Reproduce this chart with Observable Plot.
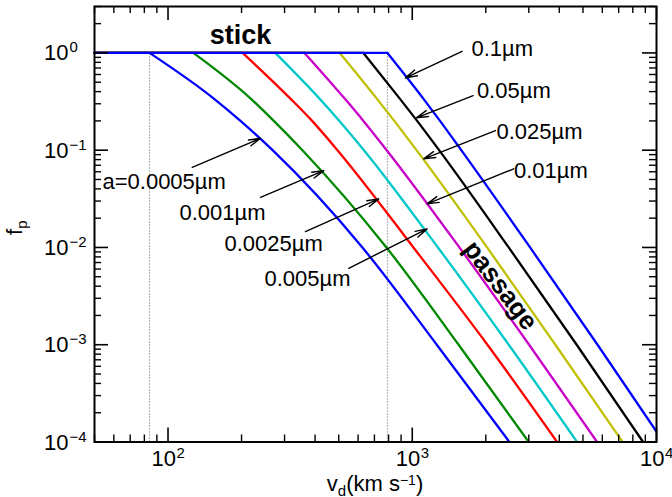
<!DOCTYPE html>
<html><head><meta charset="utf-8">
<script src="https://cdn.jsdelivr.net/npm/d3@7"></script>
<script src="https://cdn.jsdelivr.net/npm/@observablehq/plot@0.6"></script>
<style>
html,body{margin:0;padding:0;background:#fff;}
#chart svg{display:block;}
</style></head><body><div id="chart"></div>
<script>
// ---- data ----
const sizes  = ["0.0005","0.001","0.0025","0.005","0.01","0.025","0.05","0.1"];
const colors = ["#0000ff","#008800","#ff0000","#00c8c8","#c800c8","#c0c000","#000000","#0000ff"];
// f_p levels at which velocities were read (shared by all curves)
const fLevels = [1, 0.339, 0.2, 0.1, 0.01, 0.001, 0.0001];
// velocity (km/s) of each curve at those levels; first value = start of decline
const v_a0005 = [84, 154, 198, 268, 625, 1260, 2499];
const v_a001  = [127, 218, 271, 355, 784, 1548, 2997];
const v_a0025 = [202, 317, 389, 494, 1011, 2031, 3917];
const v_a005  = [275, 417, 503, 634, 1274, 2483, 4730];
const v_a01   = [362, 529, 631, 786, 1560, 3009, 5711];
const v_a025  = [505, 716, 844, 1041, 2025, 3855, 7269];
const v_a05   = [631, 889, 1047, 1288, 2483, 4712, 8810];
const v_a1    = [791, 1110, 1299, 1587, 3037, 5736, 10690];
const vStart = 50;

// annotation labels
const labelText = ["a=0.0005µm","0.001µm","0.0025µm","0.005µm","0.01µm","0.025µm","0.05µm","0.1µm"];
const labelV = [53.9, 111.4, 170.3, 248.3, 2607, 2211, 1839, 1747];
const labelF = [0.0403, 0.01935, 0.00929, 0.00401, 0.0523, 0.1316, 0.347, 0.938];
// arrows: tail (1) -> head (2)
const arrowV1 = [125.6, 239.1, 365.3, 549.5, 2602, 2190, 1775, 1600];
const arrowF1 = [0.0667, 0.0328, 0.01457, 0.00611, 0.0643, 0.159, 0.364, 1.038];
const arrowV2 = [239.1, 434.1, 729.1, 1150, 1150, 1114, 1040, 937.6];
const arrowF2 = [0.1325, 0.0617, 0.0316, 0.01553, 0.02805, 0.0814, 0.2148, 0.5534];

const regionText = ["stick", "passage"];
const regionV = [198, 2296];
const regionF = [1.246, 0.00406];

// ticks
const xMajor = [100, 1000, 10000];
const xExp = ["2", "3", "4"];
const yMajor = [1e-4, 1e-3, 1e-2, 1e-1, 1];
const yExp = ["\u22124", "\u22123", "\u22122", "\u22121", "0"];
const xDomain = [50, 1e4];
const yDomain = [1e-4, 3];

// ---- build tables ----
const vSeries = [v_a0005, v_a001, v_a0025, v_a005, v_a01, v_a025, v_a05, v_a1];
const decline = [], flat = [];
sizes.forEach((s, i) => {
  fLevels.forEach((f, j) => decline.push({size: s, v: vSeries[i][j], f}));
  flat.push({size: s, v: vStart, f: 1}, {size: s, v: vSeries[i][0], f: 1});
});
const minor = (lo, hi) => {
  const out = [];
  for (let d = 1e-5; d <= 1e5; d *= 10)
    for (let m = 2; m <= 9; m++) { const t = +(d * m).toPrecision(6); if (t >= lo && t <= hi) out.push(t); }
  return out;
};
const xMinor = minor(xDomain[0], xDomain[1]);
const yMinor = minor(yDomain[0], yDomain[1]);
const idx = sizes.map((_, i) => i);

const W = 672, H = 497, ML = 94, MR = 16, MT = 6, MB = 55.5;
const FW = W - ML - MR, FH = H - MT - MB;
const FONT = "'Liberation Sans', Arial, Helvetica, sans-serif";
const TS = 22, SS = 15;

const svg = Plot.plot({
  width: W, height: H,
  marginLeft: ML, marginRight: MR, marginTop: MT, marginBottom: MB,
  x: {type: "log", domain: xDomain, axis: null},
  y: {type: "log", domain: yDomain, axis: null},
  color: {domain: sizes, range: colors},
  style: {fontFamily: FONT, background: "white", overflow: "visible"},
  marks: [
    Plot.ruleX([v_a0005[0], v_a1[0]], {x: d => d, y1: yDomain[0], y2: 1, stroke: "#333", strokeWidth: 0.8, strokeDasharray: "1,2"}),
    Plot.line(decline, {x: "v", y: "f", z: "size", stroke: "size", strokeWidth: 2.3, curve: "monotone-x", clip: true}),
    Plot.line(flat, {x: "v", y: "f", z: "size", stroke: "size", strokeWidth: 2.3}),
    // ticks, all pointing inward
    Plot.tickX(xMajor, {x: d => d, insetTop: FH - 14, stroke: "black", strokeWidth: 1.6}),
    Plot.tickX(xMajor, {x: d => d, insetBottom: FH - 14, stroke: "black", strokeWidth: 1.6}),
    Plot.tickX(xMinor, {x: d => d, insetTop: FH - 7, stroke: "black", strokeWidth: 1.4}),
    Plot.tickX(xMinor, {x: d => d, insetBottom: FH - 7, stroke: "black", strokeWidth: 1.4}),
    Plot.tickY(yMajor, {y: d => d, insetRight: FW - 14, stroke: "black", strokeWidth: 1.6}),
    Plot.tickY(yMajor, {y: d => d, insetLeft: FW - 14, stroke: "black", strokeWidth: 1.6}),
    Plot.tickY(yMinor, {y: d => d, insetRight: FW - 7, stroke: "black", strokeWidth: 1.4}),
    Plot.tickY(yMinor, {y: d => d, insetLeft: FW - 7, stroke: "black", strokeWidth: 1.4}),
    Plot.frame({stroke: "black", strokeWidth: 2}),
    // tick labels
    Plot.text(xMajor, {x: d => d, frameAnchor: "bottom", text: () => "10", textAnchor: "end", lineAnchor: "bottom", dx: 8, dy: 23.5, fontSize: TS, fill: "black"}),
    Plot.text(xMajor, {x: d => d, frameAnchor: "bottom", text: (d, i) => xExp[i], textAnchor: "start", lineAnchor: "bottom", dx: 8.5, dy: 15.5, fontSize: SS, fill: "black"}),
    Plot.text(yMajor, {y: d => d, frameAnchor: "left", text: () => "10", textAnchor: "end", lineAnchor: "bottom", dx: -26, dy: 7.5, fontSize: TS, fill: "black"}),
    Plot.text(yMajor, {y: d => d, frameAnchor: "left", text: (d, i) => yExp[i], textAnchor: "start", lineAnchor: "bottom", dx: -25, dy: -0.5, fontSize: SS, fill: "black"}),
    // annotations
    Plot.arrow(idx, {x1: i => arrowV1[i], y1: i => arrowF1[i], x2: i => arrowV2[i], y2: i => arrowF2[i], stroke: "black", strokeWidth: 1.4, headLength: 13, headAngle: 30}),
    Plot.text(idx, {x: i => labelV[i], y: i => labelF[i], text: i => labelText[i], textAnchor: "start", lineAnchor: "bottom", fontSize: 22, fill: "black"}),
    Plot.text([0], {x: i => regionV[i], y: i => regionF[i], text: i => regionText[i], textAnchor: "middle", lineAnchor: "bottom", fontSize: 27, fontWeight: "bold", fill: "black"}),
    Plot.text([1], {x: i => regionV[i], y: i => regionF[i], text: i => regionText[i], textAnchor: "middle", lineAnchor: "middle", rotate: 53, fontSize: 26, fontWeight: "bold", fill: "black"})
  ]
});

// axis titles with sub/superscripts
const s = d3.select(svg);
const yt = s.append("text")
  .attr("transform", `translate(22,${MT + FH / 2 + 4}) rotate(-90)`)
  .attr("text-anchor", "middle").attr("font-family", FONT).attr("font-size", TS).attr("fill", "black");
yt.append("tspan").text("f");
yt.append("tspan").attr("dy", 5).attr("font-size", SS).text("p");

const xt = s.append("text")
  .attr("x", ML + FW / 2).attr("y", 490.5)
  .attr("text-anchor", "middle").attr("font-family", FONT).attr("font-size", TS).attr("fill", "black");
xt.append("tspan").text("v");
xt.append("tspan").attr("dy", 5).attr("font-size", SS).text("d");
xt.append("tspan").attr("dy", -5).text("(km s");
xt.append("tspan").attr("dy", -5.5).attr("font-size", 14).text("\u22121");
xt.append("tspan").attr("dy", 5.5).text(")");

document.getElementById("chart").appendChild(svg);
</script>
</body></html>
